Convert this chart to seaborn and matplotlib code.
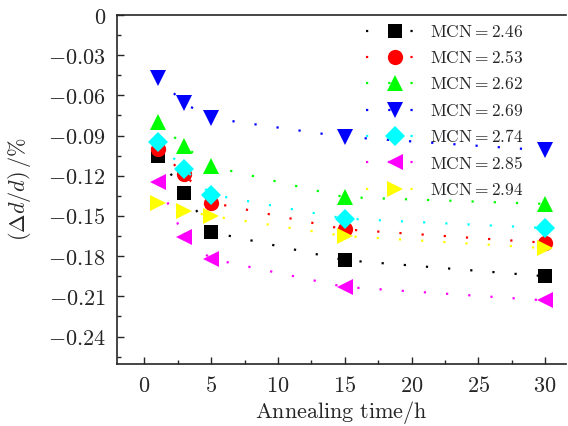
import matplotlib
matplotlib.use("Agg")
import matplotlib.pyplot as plt
from matplotlib.ticker import MultipleLocator, FuncFormatter
import seaborn as sns
import pandas as pd

sns.set_style("ticks")
plt.rcParams["mathtext.fontset"] = "cm"
plt.rcParams["font.family"] = ["DejaVu Serif"]

time_h = [1, 3, 5, 15, 30]
mcn_labels = ["2.46", "2.53", "2.62", "2.69", "2.74", "2.85", "2.94"]
series = {
    "2.46": [-0.105, -0.133, -0.162, -0.183, -0.195],
    "2.53": [-0.100, -0.119, -0.140, -0.160, -0.170],
    "2.62": [-0.080, -0.098, -0.113, -0.136, -0.141],
    "2.69": [-0.047, -0.066, -0.077, -0.091, -0.101],
    "2.74": [-0.095, -0.115, -0.134, -0.152, -0.159],
    "2.85": [-0.125, -0.166, -0.182, -0.203, -0.213],
    "2.94": [-0.140, -0.146, -0.150, -0.165, -0.174],
}
colors = ["#000000", "#ff0000", "#00ff00", "#0000ff", "#00ffff", "#ff00ff", "#ffff00"]
markers = ["s", "o", "^", "v", "D", "<", ">"]
msizes = [10, 11, 11, 11, 10, 11, 11]

fig = plt.figure(figsize=(5.68, 4.26), dpi=100)
ax = fig.add_axes([117 / 568, 1 - 364 / 426, (566 - 117) / 568, (364 - 15) / 426])

for lab, c, m, ms in zip(mcn_labels, colors, markers, msizes):
    df = pd.DataFrame({"t": time_h, "v": series[lab]})
    sns.lineplot(data=df, x="t", y="v", ax=ax, color=c, marker=m,
                 markersize=ms, markeredgewidth=0, linestyle=(0, (1, 9)),
                 linewidth=1.6, label=r"$\mathrm{MCN}=" + lab + "$")

ax.set_xlim(-2.05, 31.56)
ax.set_ylim(-0.2605, 0)
ax.xaxis.set_major_locator(MultipleLocator(5))
ax.xaxis.set_minor_locator(MultipleLocator(2.5))
ax.yaxis.set_major_locator(MultipleLocator(0.03))
ax.yaxis.set_minor_locator(MultipleLocator(0.015))


def yfmt(v, pos):
    if abs(v) < 1e-9:
        return "$0$"
    return "$%.2f$" % v


ax.yaxis.set_major_formatter(FuncFormatter(yfmt))
ax.xaxis.set_major_formatter(FuncFormatter(lambda v, p: "$%d$" % round(v)))
ax.tick_params(which="both", direction="in", top=False, right=False, labelsize=16)
ax.tick_params(which="major", length=5, width=1)
ax.tick_params(which="minor", length=3, width=1)
ax.tick_params(axis="y", pad=8)
ax.tick_params(axis="x", pad=8)
ax.spines["right"].set_visible(False)
for s in ["left", "top", "bottom"]:
    ax.spines[s].set_linewidth(1.2)

ax.set_xlabel(r"$\mathrm{Annealing\ time/h}$", fontsize=16, labelpad=1)
ax.set_ylabel(r"$(\Delta d/d)\,/\%$", fontsize=16, labelpad=11)

handles, labels = ax.get_legend_handles_labels()
ax.legend(handles, labels, loc="upper right", frameon=False, fontsize=12.5,
          handlelength=3.4, handletextpad=0.3, labelspacing=0.54,
          bbox_to_anchor=(0.94, 1.02))

fig.savefig("out.png", dpi=100)
